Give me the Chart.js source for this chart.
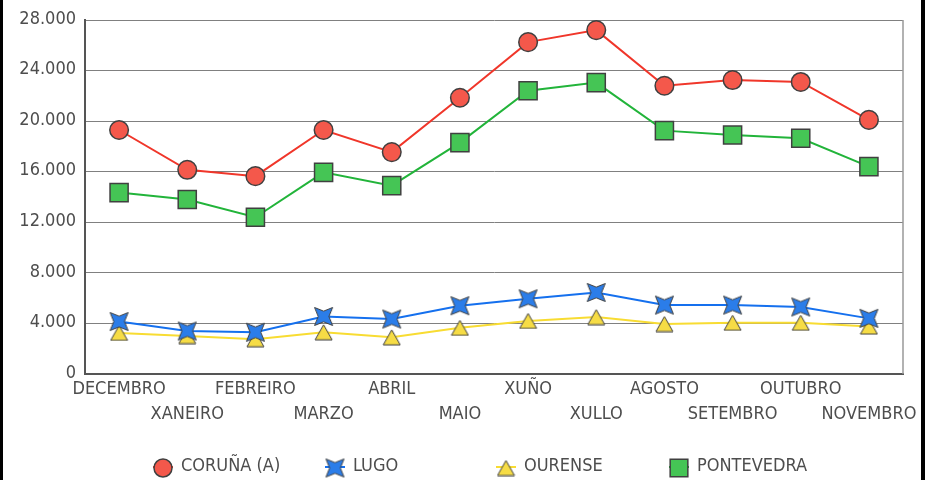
<!DOCTYPE html>
<html>
<head>
<meta charset="utf-8">
<script src="https://cdn.jsdelivr.net/npm/chart.js@4.4.0/dist/chart.umd.min.js"></script>
<style>
  html, body { margin: 0; padding: 0; background: #fff; }
  canvas { display: block; }
</style>
</head>
<body>
<canvas id="chart" width="925" height="480"></canvas>
<script>
const months = ["DECEMBRO", "XANEIRO", "FEBREIRO", "MARZO", "ABRIL", "MAIO",
  "XUÑO", "XULLO", "AGOSTO", "SETEMBRO", "OUTUBRO", "NOVEMBRO"];
const seriesNames = ["CORUÑA (A)", "LUGO", "OURENSE", "PONTEVEDRA"];
const coruna = [19300, 16150, 15650, 19300, 17550, 21850, 26250, 27200, 22800, 23250, 23100, 20100];
const lugo = [4150, 3400, 3300, 4550, 4350, 5400, 5950, 6450, 5450, 5450, 5300, 4400];
const ourense = [3250, 3000, 2750, 3300, 2900, 3650, 4200, 4500, 3950, 4050, 4050, 3750];
const pontevedra = [14350, 13800, 12400, 15950, 14900, 18300, 22400, 23050, 19250, 18900, 18650, 16400];
const yMin = 0;
const yMax = 28000;
const yStep = 4000;

const FONT = "'DejaVu Sans Condensed', 'DejaVu Sans', sans-serif";
const TEXT = "#4d4d4d";
const EDGE = "#404040";

// star marker for LUGO (4 points on the diagonals)
function makeStar(size, fill) {
  const c = document.createElement("canvas");
  c.width = size;
  c.height = size;
  const g = c.getContext("2d");
  const m = size / 2;
  const R = (size / 2 - 1.5) * Math.SQRT2;
  const r = R * 0.42;
  g.beginPath();
  for (let i = 0; i < 8; i++) {
    const a = (i + 1) * Math.PI / 4;
    const d = i % 2 === 0 ? R : r;
    const px = m + Math.cos(a) * d;
    const py = m + Math.sin(a) * d;
    if (i === 0) g.moveTo(px, py); else g.lineTo(px, py);
  }
  g.closePath();
  g.fillStyle = fill;
  g.fill();
  g.lineWidth = 1;
  g.strokeStyle = EDGE;
  g.stroke();
  return c;
}

function makeTriangle(w, h, fill) {
  const c = document.createElement("canvas");
  c.width = w;
  c.height = h;
  const g = c.getContext("2d");
  g.beginPath();
  g.moveTo(w / 2, 1);
  g.lineTo(w - 1, h - 1);
  g.lineTo(1, h - 1);
  g.closePath();
  g.fillStyle = fill;
  g.fill();
  g.lineWidth = 1;
  g.strokeStyle = EDGE;
  g.stroke();
  return c;
}

const starImg = makeStar(21, "#2b7de9");
const triImg = makeTriangle(19, 17, "#f6dc45");

const legendSlots = [163, 335, 506, 679];

const extras = {
  id: "extras",
  afterDraw(chart) {
    const ctx = chart.ctx;
    const area = chart.chartArea;
    ctx.save();
    // right edge of the plot
    ctx.strokeStyle = "#999";
    ctx.lineWidth = 1.5;
    ctx.beginPath();
    ctx.moveTo(area.right, area.top);
    ctx.lineTo(area.right, area.bottom);
    ctx.stroke();

    // legend
    const ly = 466;
    chart.data.datasets.forEach((ds, i) => {
      const mx = legendSlots[i];
      ctx.strokeStyle = ds.borderColor;
      ctx.lineWidth = 2;
      ctx.beginPath();
      ctx.moveTo(mx - 10, ly + 1);
      ctx.lineTo(mx + 10, ly + 1);
      ctx.stroke();
      ctx.fillStyle = ds.pointBackgroundColor;
      ctx.strokeStyle = EDGE;
      ctx.lineWidth = ds.pointBorderWidth;
      Chart.helpers.drawPoint(ctx, {
        pointStyle: ds.pointStyle,
        radius: ds.legendRadius,
        rotation: 0,
        borderWidth: ds.pointBorderWidth
      }, mx, ly + 2);
      ctx.fillStyle = TEXT;
      ctx.font = "18px " + FONT;
      ctx.textAlign = "left";
      ctx.textBaseline = "middle";
      ctx.fillText(ds.label, mx + 18, ly);
    });

    // black frame sides
    ctx.fillStyle = "#000";
    ctx.fillRect(0, 0, 3, chart.height);
    ctx.fillRect(921, 0, 4, chart.height);
    ctx.restore();
  }
};

new Chart(document.getElementById("chart"), {
  type: "line",
  data: {
    labels: months,
    datasets: [
      {
        label: seriesNames[0],
        data: coruna,
        borderColor: "#f0362a",
        pointBackgroundColor: "#f4584b",
        pointStyle: "circle",
        pointRadius: 9.3,
        legendRadius: 9,
        pointBorderWidth: 1.5
      },
      {
        label: seriesNames[1],
        data: lugo,
        borderColor: "#1570ee",
        pointBackgroundColor: "#2b7de9",
        pointStyle: starImg,
        pointRadius: 10,
        legendRadius: 10,
        pointBorderWidth: 1
      },
      {
        label: seriesNames[2],
        data: ourense,
        borderColor: "#f8dc32",
        pointBackgroundColor: "#f6dc45",
        pointStyle: triImg,
        pointRadius: 9,
        legendRadius: 9,
        pointBorderWidth: 1
      },
      {
        label: seriesNames[3],
        data: pontevedra,
        borderColor: "#22b43a",
        pointBackgroundColor: "#45c555",
        pointStyle: "rect",
        pointRadius: 12.8,
        legendRadius: 12.5,
        pointBorderWidth: 1.5
      }
    ].map(ds => Object.assign({
      borderWidth: 2,
      pointBorderColor: EDGE,
      pointHoverRadius: ds.pointRadius,
      tension: 0,
      fill: false
    }, ds))
  },
  options: {
    responsive: false,
    animation: false,
    events: [],
    layout: { padding: { top: 20, right: 22, left: 0, bottom: 0 } },
    plugins: {
      legend: { display: false },
      tooltip: { enabled: false }
    },
    scales: {
      x: {
        offset: true,
        grid: { display: false, drawTicks: false },
        border: { display: true, color: "#555", width: 2 },
        ticks: {
          autoSkip: false,
          maxRotation: 0,
          minRotation: 0,
          padding: 3,
          color: TEXT,
          font: { family: FONT, size: 18, lineHeight: 25 / 18 },
          callback: (v, i) => (i % 2 ? ["", months[i]] : months[i])
        },
        afterFit(scale) { scale.height = 106; }
      },
      y: {
        min: yMin,
        max: yMax,
        grid: { color: "#808080", lineWidth: 1, drawTicks: false },
        border: { display: true, color: "#555", width: 2 },
        ticks: {
          stepSize: yStep,
          padding: 9,
          labelOffset: -1,
          color: TEXT,
          font: { family: FONT, size: 18 },
          callback: v => v.toLocaleString("de-DE")
        },
        afterFit(scale) { scale.width = 85; }
      }
    }
  },
  plugins: [extras]
});
</script>
</body>
</html>
